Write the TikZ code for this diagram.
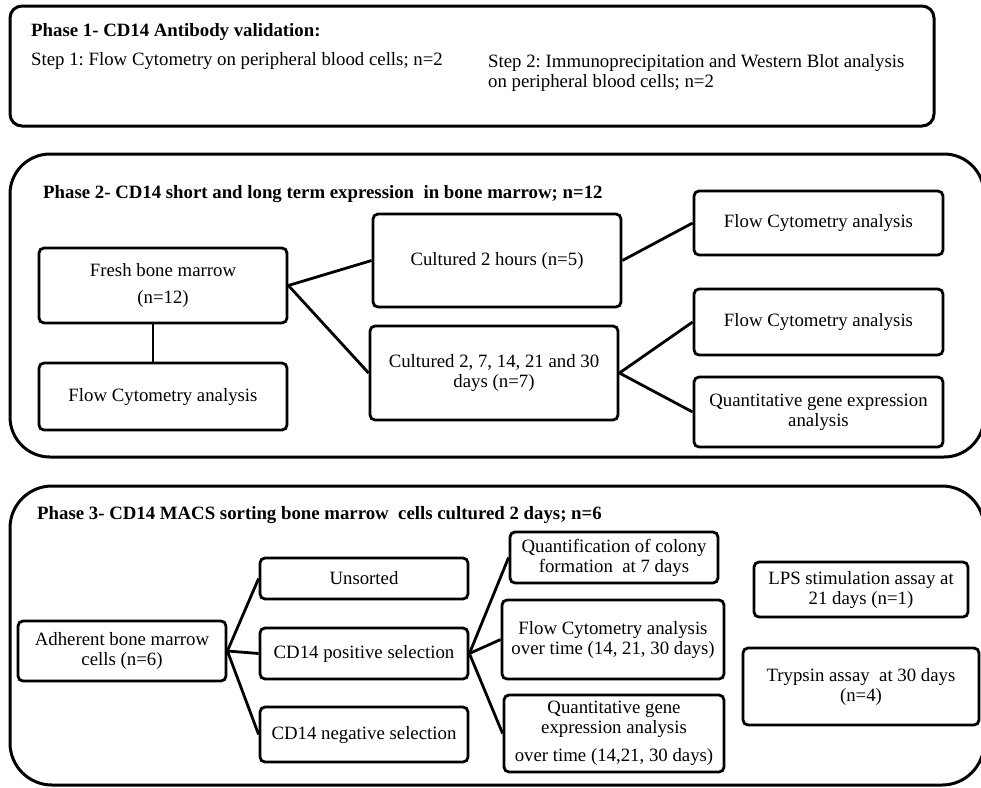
\documentclass[tikz,border=0pt]{standalone}
\usepackage{fontspec}
\setmainfont{Liberation Serif}
\usepackage{tikz}
\frenchspacing
\tikzstyle{box}=[draw=black,line width=2.8pt,rounded corners=5pt,align=center,inner sep=2pt,font=\fontsize{18.8}{20}\selectfont]
\tikzstyle{phase}=[draw=black,line width=3pt,inner sep=0pt]
\tikzstyle{heading}=[anchor=west,inner sep=0pt,font=\fontsize{18.8}{20}\selectfont\bfseries]
\tikzstyle{plain}=[anchor=west,inner sep=0pt,align=left,font=\fontsize{18.8}{20}\selectfont]
\tikzstyle{link}=[line width=2.8pt]

\begin{document}
\begin{tikzpicture}[x=1pt,y=-1pt]
    \useasboundingbox (0,0) rectangle (981,787);
    % phase frames
    \node[phase,rounded corners=12pt,minimum width=924pt,minimum height=120pt] (phaseone) at (472,66) {};
    \node[phase,rounded corners=40pt,minimum width=974pt,minimum height=303pt] (phasetwo) at (497,305.5) {};
    \node[phase,rounded corners=42pt,minimum width=974pt,minimum height=299pt] (phasethree) at (497,635.5) {};

    % phase 1
    \node[heading] (titleone) at (31,32) {Phase 1- CD14 Antibody validation:};
    \node[plain] (stepone) at (31,61) {Step 1: Flow Cytometry on peripheral blood cells; n=2};
    \node[plain] (steptwo) at (488,73) {Step 2: Immunoprecipitation and Western Blot analysis\\on peripheral blood cells; n=2};

    % phase 2
    \node[heading] (titletwo) at (43,194) {Phase 2- CD14 short and long term expression\ \ in bone marrow; n=12};
    \node[box,minimum width=248pt,minimum height=75pt] (fresh) at (163,285.5) {Fresh bone marrow\\[7pt](n=12)};
    \node[box,minimum width=248pt,minimum height=67pt] (flowfresh) at (163,396.5) {Flow Cytometry analysis};
    \node[box,minimum width=248pt,minimum height=93pt] (twohours) at (497,260.5) {Cultured 2 hours (n=5)};
    \node[box,minimum width=248pt,minimum height=94pt] (days) at (494,373) {Cultured 2, 7, 14, 21 and 30\\days (n=7)};
    \node[box,minimum width=249pt,minimum height=64pt] (flowhours) at (818.5,223) {Flow Cytometry analysis};
    \node[box,minimum width=249pt,minimum height=66pt] (flowdays) at (818.5,322) {Flow Cytometry analysis};
    \node[box,minimum width=249pt,minimum height=70pt] (genedays) at (818.5,412) {Quantitative gene expression\\analysis};

    \draw[link] ([xshift=-10pt]fresh.south) -- ([xshift=-10pt]flowfresh.north);
    \draw[link] (fresh.east) -- (twohours.west);
    \draw[link] (fresh.east) -- (days.west);
    \draw[link] (twohours.east) -- (flowhours.west);
    \draw[link] (days.east) -- (flowdays.west);
    \draw[link] (days.east) -- (genedays.west);

    % phase 3
    \node[heading] (titlethree) at (37,515) {Phase 3- CD14 MACS sorting bone marrow\ \ cells cultured 2 days; n=6};
    \node[box,minimum width=208pt,minimum height=60pt] (adherent) at (122,651) {Adherent bone marrow\\cells (n=6)};
    \node[box,minimum width=208pt,minimum height=41pt] (unsorted) at (364,578.5) {Unsorted};
    \node[box,minimum width=208pt,minimum height=51pt] (positive) at (364,653.5) {CD14 positive selection};
    \node[box,minimum width=208pt,minimum height=55pt] (negative) at (364,734.5) {CD14 negative selection};
    \node[box,minimum width=208pt,minimum height=51pt] (colony) at (614,557.5) {Quantification of colony\\formation\ \ at 7 days};
    \node[box,minimum width=222pt,minimum height=79pt] (flowtime) at (613,639.5) {Flow Cytometry analysis\\over time (14, 21, 30 days)};
    \node[box,minimum width=220pt,minimum height=77pt] (genetime) at (614,733.5) {Quantitative gene\\expression analysis\\[8pt]over time (14,21, 30 days)};
    \node[box,minimum width=214pt,minimum height=55pt] (lps) at (861,589.5) {LPS stimulation assay at\\21 days (n=1)};
    \node[box,minimum width=236pt,minimum height=77pt] (trypsin) at (861,686.5) {Trypsin assay\ \ at 30 days\\(n=4)};

    \draw[link] (adherent.east) -- (unsorted.west);
    \draw[link] (adherent.east) -- (positive.west);
    \draw[link] (adherent.east) -- (negative.west);
    \draw[link] (positive.east) -- (colony.west);
    \draw[link] (positive.east) -- (flowtime.west);
    \draw[link] (positive.east) -- (genetime.west);
\end{tikzpicture}
\end{document}
